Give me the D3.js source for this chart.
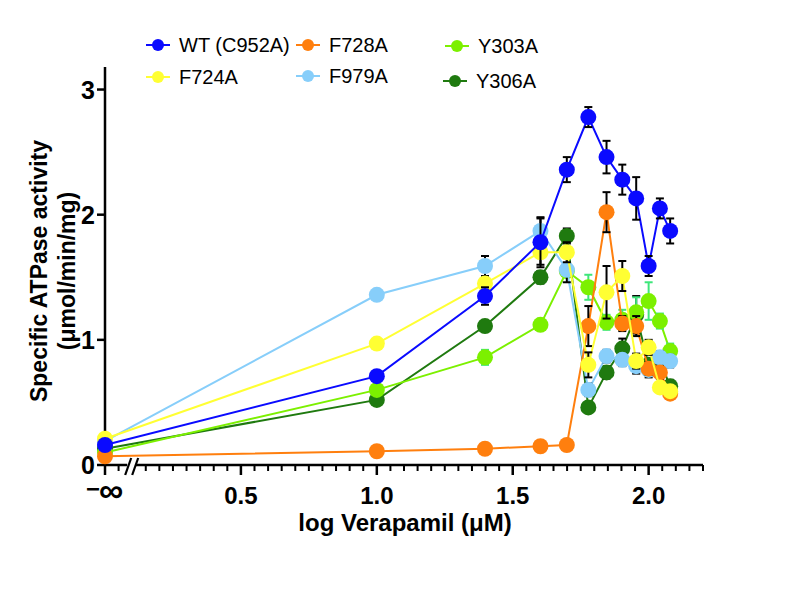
<!DOCTYPE html>
<html><head><meta charset="utf-8">
<script src="https://cdn.jsdelivr.net/npm/d3@7"></script>
<style>body{margin:0;background:#fff}svg{font-family:"Liberation Sans",Arial,sans-serif}</style>
</head><body><svg id="c" width="800" height="600"></svg>
<script>
const concentrations = [0, 10, 25, 40, 50, 60, 70, 80, 90, 100, 110, 120];
const seriesNames = ["WT (C952A)", "F724A", "F728A", "F979A", "Y303A", "Y306A"];
const seriesColors = ["#0a0aff", "#ffff33", "#ff7f0e", "#87cefa", "#7cf000", "#1f7a0f"];
const errColors = ["#000", "#000", "#000", "#000", "#3ee67a", "#000"];
const wt     = [0.16, 0.71, 1.35, 1.78, 2.36, 2.78, 2.46, 2.28, 2.13, 1.59, 2.05, 1.87];
const wtErr  = [0.02, 0.03, 0.07, 0.20, 0.10, 0.08, 0.13, 0.12, 0.17, 0.08, 0.08, 0.10];
const f724a  = [0.21, 0.97, 1.45, 1.70, 1.70, 0.80, 1.38, 1.51, 0.83, 0.94, 0.62, 0.59];
const f724aErr=[0.02, 0.03, 0.05, 0.10, 0.08, 0.10, 0.21, 0.12, 0.06, 0.06, 0.04, 0.04];
const f728a  = [0.07, 0.11, 0.13, 0.15, 0.16, 1.11, 2.02, 1.13, 1.11, 0.77, 0.74, 0.57];
const f728aErr=[0.01, 0.01, 0.01, 0.01, 0.01, 0.16, 0.16, 0.06, 0.08, 0.05, 0.05, 0.03];
const f979a  = [0.19, 1.36, 1.59, 1.87, 1.56, 0.60, 0.87, 0.84, 0.79, 0.76, 0.86, 0.83];
const f979aErr=[0.02, 0.03, 0.08, 0.10, 0.10, 0.05, 0.05, 0.05, 0.06, 0.06, 0.05, 0.05];
const y303a  = [0.10, 0.60, 0.86, 1.12, 1.55, 1.42, 1.14, 1.16, 1.22, 1.31, 1.15, 0.91];
const y303aErr=[0.01, 0.03, 0.06, 0.03, 0.04, 0.10, 0.06, 0.08, 0.12, 0.15, 0.06, 0.06];
const y306a  = [0.13, 0.52, 1.11, 1.50, 1.83, 0.46, 0.74, 0.93, 1.20, 0.80, 0.83, 0.63];
const y306aErr=[0.01, 0.02, 0.04, 0.05, 0.06, 0.04, 0.05, 0.08, 0.15, 0.05, 0.05, 0.05];
const xTickLabels = ["0.5", "1.0", "1.5", "2.0"];
const yTicks = [0, 1, 2, 3];

const values = [wt, f724a, f728a, f979a, y303a, y306a];
const errors = [wtErr, f724aErr, f728aErr, f979aErr, y303aErr, y306aErr];
const drawOrder = [5, 4, 3, 2, 1, 0];

const svg = d3.select("#c");
const x = d3.scaleLinear().domain([0, 2.2]).range([105, 703]);
const y = d3.scaleLinear().domain([0, 3.18]).range([465, 67]);
const xv = c => c === 0 ? 0 : Math.log10(c);

// axes
const gx = svg.append("g").attr("transform", `translate(0,${y(0)})`);
gx.append("line").attr("x1", x(0) - 1).attr("x2", x(2.2)).attr("stroke", "#000").attr("stroke-width", 2.5);
const minor = d3.range(1, 45).map(i => i * 0.05).filter(v => Math.abs(v - 0.1) > 1e-6 && Math.abs(v * 2 - Math.round(v * 2)) > 1e-6);
gx.selectAll(".mt").data(minor).join("line").attr("x1", d => x(d)).attr("x2", d => x(d)).attr("y1", 0).attr("y2", 6).attr("stroke", "#000").attr("stroke-width", 2);
const major = [0, 0.5, 1.0, 1.5, 2.0];
gx.selectAll(".Mt").data(major).join("line").attr("x1", d => x(d)).attr("x2", d => x(d)).attr("y1", 0).attr("y2", 10).attr("stroke", "#000").attr("stroke-width", 2.5);
gx.selectAll(".xl").data(xTickLabels).join("text").attr("x", d => x(+d)).attr("y", 39).attr("text-anchor", "middle").attr("font-size", 24).attr("font-weight", "bold").text(d => d);
gx.append("text").attr("x", x(0) - 12).attr("y", 32).attr("text-anchor", "middle").attr("font-size", 24).attr("font-weight", "bold").text("\u2212");
gx.append("text").attr("x", x(0) + 6).attr("y", 37).attr("text-anchor", "middle").attr("font-size", 34).attr("font-weight", "bold").text("\u221e");
// break marks
const bx = x(0.1);
gx.append("rect").attr("x", bx - 5).attr("y", -2).attr("width", 8).attr("height", 4).attr("fill", "#fff");
[-4, 3].forEach(o => {
  gx.append("line").attr("x1", bx + o - 3).attr("y1", 10).attr("x2", bx + o + 3).attr("y2", -7).attr("stroke", "#000").attr("stroke-width", 2.2);
});

const gy = svg.append("g");
gy.append("line").attr("x1", x(0)).attr("x2", x(0)).attr("y1", y(0) + 1).attr("y2", y(3.18)).attr("stroke", "#000").attr("stroke-width", 2.5);
gy.selectAll(".yt").data(yTicks).join("line").attr("x1", x(0) - 8).attr("x2", x(0)).attr("y1", d => y(d)).attr("y2", d => y(d)).attr("stroke", "#000").attr("stroke-width", 2.5);
gy.selectAll(".yl").data(yTicks).join("text").attr("x", x(0) - 10).attr("y", d => y(d) + 9).attr("text-anchor", "end").attr("font-size", 25).attr("font-weight", "bold").text(d => d);

svg.append("text").attr("transform", `translate(47,${y(1.55)}) rotate(-90)`).attr("text-anchor", "middle").attr("font-size", 23).attr("font-weight", "bold").text("Specific ATPase activity");
svg.append("text").attr("transform", `translate(75,${y(1.55)}) rotate(-90)`).attr("text-anchor", "middle").attr("font-size", 23).attr("font-weight", "bold").text("(\u03bcmol/min/mg)");
svg.append("text").attr("x", 405).attr("y", 531).attr("text-anchor", "middle").attr("font-size", 24).attr("font-weight", "bold").text("log Verapamil (\u03bcM)");

// series
const line = d3.line().x(d => x(d.x)).y(d => y(d.v));
drawOrder.forEach(s => {
  const pts = concentrations.map((c, i) => ({x: xv(c), v: values[s][i], e: errors[s][i]}));
  const g = svg.append("g");
  g.append("path").datum(pts).attr("d", line).attr("fill", "none").attr("stroke", seriesColors[s]).attr("stroke-width", 2);
  const eb = g.selectAll(".eb").data(pts.filter(p => p.e > 0.025)).join("g").attr("stroke", errColors[s]).attr("stroke-width", 2);
  eb.append("line").attr("x1", d => x(d.x)).attr("x2", d => x(d.x)).attr("y1", d => y(d.v - d.e)).attr("y2", d => y(d.v + d.e));
  eb.append("line").attr("x1", d => x(d.x) - 4).attr("x2", d => x(d.x) + 4).attr("y1", d => y(d.v + d.e)).attr("y2", d => y(d.v + d.e));
  eb.append("line").attr("x1", d => x(d.x) - 4).attr("x2", d => x(d.x) + 4).attr("y1", d => y(d.v - d.e)).attr("y2", d => y(d.v - d.e));
  g.selectAll("circle").data(pts).join("circle").attr("cx", d => x(d.x)).attr("cy", d => y(d.v)).attr("r", 8).attr("fill", seriesColors[s]);
});

// legend
const legPos = [[158, 45], [158, 77], [308, 45], [308, 76], [457, 46], [455, 81]];
seriesNames.forEach((n, s) => {
  const [lx, ly] = legPos[s];
  const g = svg.append("g");
  g.append("line").attr("x1", lx - 12).attr("x2", lx + 12).attr("y1", ly).attr("y2", ly).attr("stroke", seriesColors[s]).attr("stroke-width", 2);
  g.append("circle").attr("cx", lx).attr("cy", ly).attr("r", 6).attr("fill", seriesColors[s]);
  g.append("text").attr("x", lx + 21).attr("y", ly + 7).attr("font-size", 20).text(n);
});
</script></body></html>
